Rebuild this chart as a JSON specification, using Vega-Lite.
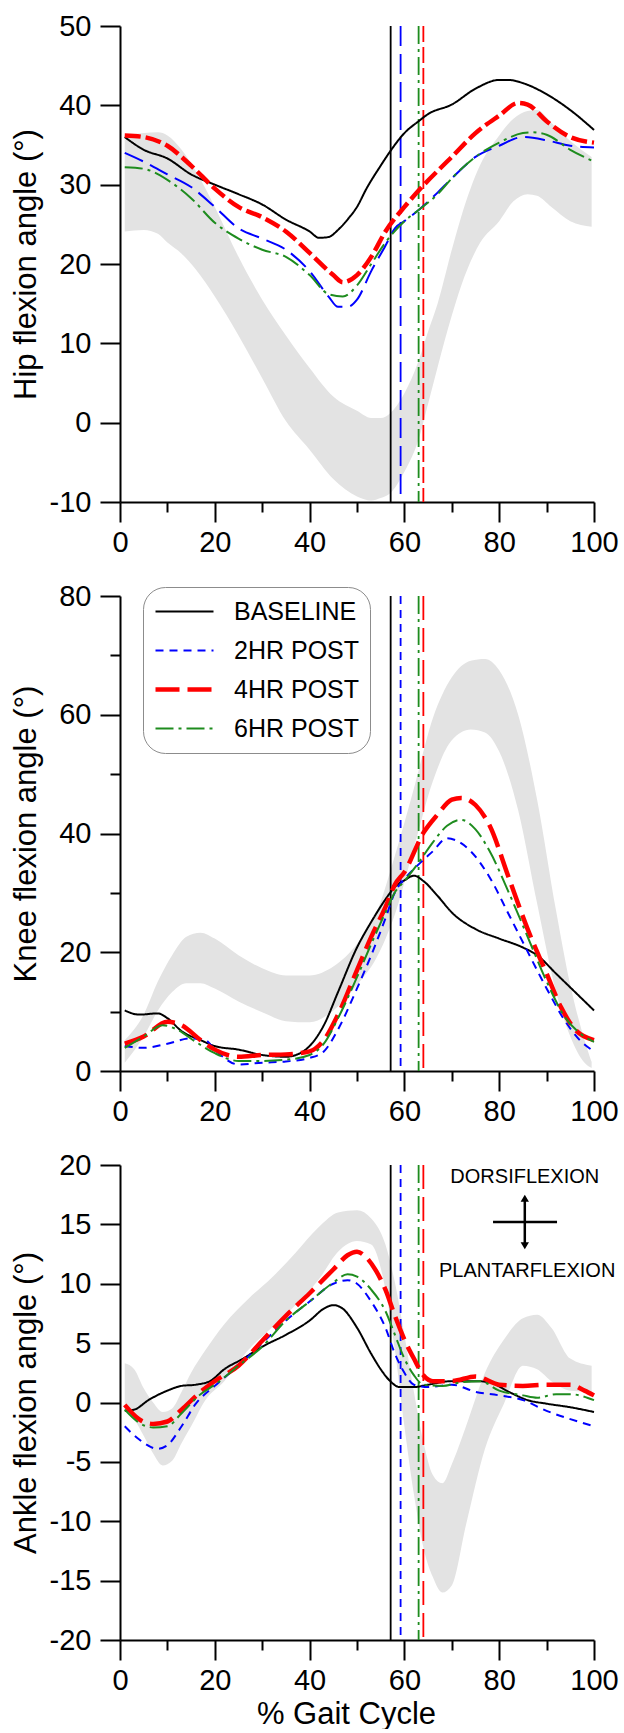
{
  "$schema": "https://vega.github.io/schema/vega-lite/v6.json",
  "background": "white",
  "padding": {"left": 10, "top": 12, "right": 0, "bottom": 0},
  "spacing": 25,
  "config": {
    "view": {"stroke": null},
    "font": "Liberation Sans",
    "axis": {
      "grid": false, "labelFont": "Liberation Sans", "labelFontSize": 29, "labelColor": "black",
      "titleFont": "Liberation Sans", "titleFontSize": 31, "titleFontWeight": "normal", "titleColor": "black",
      "domainColor": "black", "domainWidth": 2, "tickColor": "black", "tickWidth": 2,
      "labelFlush": false, "labelOverlap": false
    },
    "axisX": {"labelPadding": 6, "titlePadding": 4},
    "axisY": {"labelPadding": 9}
  },
  "resolve": {
    "scale": {"color": "independent", "strokeDash": "independent", "strokeWidth": "independent"},
    "legend": {"color": "independent", "strokeDash": "independent", "strokeWidth": "independent"}
  },
  "datasets": {
    "toeoff": [
      {"s": "BASELINE", "x": 57.1}, {"s": "2HR POST", "x": 59.2}, {"s": "4HR POST", "x": 64.0}, {"s": "6HR POST", "x": 63.0}
    ],
    "hipband": [
      {"x":1,"v":36.2,"lo":24.1},{"x":5,"v":36.5,"lo":24.3},{"x":8,"v":36.6,"lo":23.8},{"x":10,"v":36.2,"lo":22.7},
      {"x":13,"v":34.4,"lo":21.3},{"x":16,"v":31.7,"lo":19.3},{"x":20,"v":27.2,"lo":15.9},{"x":25,"v":20.9,"lo":11.0},
      {"x":30,"v":15.5,"lo":5.6},{"x":35,"v":11.0,"lo":0.2},{"x":40,"v":6.9,"lo":-3.4},{"x":45,"v":3.3,"lo":-7.1},
      {"x":50,"v":1.5,"lo":-9.3},{"x":53,"v":0.6,"lo":-9.8},{"x":55,"v":0.6,"lo":-9.5},{"x":57,"v":1.2,"lo":-8.9},
      {"x":60,"v":3.7,"lo":-6.2},{"x":63,"v":7.8,"lo":-2.1},{"x":65,"v":11.5,"lo":2.4},{"x":67,"v":15.0,"lo":7.0},
      {"x":70,"v":21.8,"lo":13.5},{"x":72,"v":26.0,"lo":17.3},{"x":76,"v":32.5,"lo":22.7},{"x":80,"v":36.2,"lo":25.4},
      {"x":83,"v":38.3,"lo":27.9},{"x":86,"v":39.3,"lo":28.8},{"x":88,"v":39.4,"lo":28.6},{"x":91,"v":37.8,"lo":27.2},
      {"x":95,"v":35.5,"lo":25.4},{"x":99.5,"v":33.5,"lo":24.7}
    ],
    "kneeband": [
      {"x":1,"v":5.2,"lo":1.4},{"x":5,"v":9.5,"lo":5.8},{"x":8,"v":15.1,"lo":10.2},{"x":11,"v":19.5,"lo":13.3},
      {"x":14,"v":22.6,"lo":14.8},{"x":17,"v":23.3,"lo":14.8},{"x":20,"v":22.3,"lo":13.9},{"x":25,"v":19.5,"lo":11.7},
      {"x":30,"v":17.3,"lo":9.9},{"x":35,"v":16.1,"lo":8.4},{"x":40,"v":16.1,"lo":8.2},{"x":45,"v":17.6,"lo":10.2},
      {"x":50,"v":21.4,"lo":14.5},{"x":54,"v":26.4,"lo":18.9},{"x":58,"v":36.3,"lo":26.4},{"x":62,"v":47.6,"lo":37.6},
      {"x":66,"v":59.4,"lo":48.8},{"x":70,"v":66.3,"lo":55.7},{"x":74,"v":69.1,"lo":57.5},{"x":77,"v":69.4,"lo":57.0},
      {"x":80,"v":67.5,"lo":53.8},{"x":84,"v":60.0,"lo":43.9},{"x":88,"v":45.7,"lo":28.2},{"x":92,"v":27.0,"lo":13.3},
      {"x":95,"v":14.5,"lo":5.8},{"x":98,"v":5.2,"lo":1.4},{"x":99.5,"v":1.5,"lo":0.5}
    ],
    "ankleband": [
      {"x":1,"v":3.3,"lo":-0.6},{"x":3,"v":2.8,"lo":-1.4},{"x":5,"v":1.2,"lo":-2.8},{"x":7,"v":0.0,"lo":-4.3},
      {"x":9,"v":-0.8,"lo":-5.3},{"x":11,"v":-0.5,"lo":-4.9},{"x":13,"v":0.9,"lo":-3.4},{"x":15,"v":2.5,"lo":-2.0},
      {"x":18,"v":4.4,"lo":0.2},{"x":22,"v":6.6,"lo":1.8},{"x":27,"v":8.7,"lo":4.4},{"x":32,"v":10.5,"lo":6.3},
      {"x":37,"v":12.6,"lo":8.2},{"x":42,"v":14.8,"lo":10.4},{"x":46,"v":16.0,"lo":12.7},{"x":50,"v":16.2,"lo":13.6},
      {"x":53,"v":15.5,"lo":13.3},{"x":56,"v":13.3,"lo":9.5},{"x":58,"v":10.1,"lo":4.4},{"x":60,"v":5.7,"lo":-2.0},
      {"x":62,"v":0.9,"lo":-7.7},{"x":64,"v":-3.3,"lo":-12.2},{"x":66,"v":-6.1,"lo":-14.7},{"x":68,"v":-6.8,"lo":-16.0},
      {"x":70,"v":-5.2,"lo":-15.4},{"x":73,"v":-2.0,"lo":-10.3},{"x":77,"v":2.5,"lo":-3.9},{"x":81,"v":5.3,"lo":-0.1},
      {"x":85,"v":7.1,"lo":3.1},{"x":88,"v":7.4,"lo":2.8},{"x":91,"v":6.3,"lo":1.8},{"x":95,"v":3.7,"lo":1.0},
      {"x":99.5,"v":3.1,"lo":0.9}
    ],
    "hip": [
      {"s":"BASELINE","x":1,"v":36.0},{"s":"BASELINE","x":5,"v":34.4},{"s":"BASELINE","x":10,"v":33.3},{"s":"BASELINE","x":15,"v":31.3},
      {"s":"BASELINE","x":20,"v":30.0},{"s":"BASELINE","x":25,"v":28.8},{"s":"BASELINE","x":30,"v":27.5},{"s":"BASELINE","x":35,"v":25.6},
      {"s":"BASELINE","x":40,"v":24.1},{"s":"BASELINE","x":42,"v":23.3},{"s":"BASELINE","x":44,"v":23.4},{"s":"BASELINE","x":46,"v":24.3},
      {"s":"BASELINE","x":48,"v":25.6},{"s":"BASELINE","x":50,"v":27.2},{"s":"BASELINE","x":52,"v":29.5},{"s":"BASELINE","x":55,"v":32.4},
      {"s":"BASELINE","x":57,"v":34.2},{"s":"BASELINE","x":60,"v":36.5},{"s":"BASELINE","x":63,"v":38.0},{"s":"BASELINE","x":65,"v":38.9},
      {"s":"BASELINE","x":70,"v":40.1},{"s":"BASELINE","x":75,"v":42.1},{"s":"BASELINE","x":80,"v":43.2},{"s":"BASELINE","x":82,"v":43.2},
      {"s":"BASELINE","x":85,"v":42.8},{"s":"BASELINE","x":90,"v":41.4},{"s":"BASELINE","x":95,"v":39.4},{"s":"BASELINE","x":100,"v":36.9},
      {"s":"2HR POST","x":1,"v":34.0},{"s":"2HR POST","x":5,"v":32.9},{"s":"2HR POST","x":10,"v":31.3},{"s":"2HR POST","x":15,"v":29.7},
      {"s":"2HR POST","x":20,"v":27.2},{"s":"2HR POST","x":25,"v":24.5},{"s":"2HR POST","x":30,"v":23.2},{"s":"2HR POST","x":35,"v":21.8},
      {"s":"2HR POST","x":40,"v":19.1},{"s":"2HR POST","x":44,"v":15.9},{"s":"2HR POST","x":46,"v":14.6},{"s":"2HR POST","x":48,"v":14.6},
      {"s":"2HR POST","x":50,"v":15.5},{"s":"2HR POST","x":53,"v":19.1},{"s":"2HR POST","x":56,"v":22.3},{"s":"2HR POST","x":58,"v":24.5},
      {"s":"2HR POST","x":60,"v":25.4},{"s":"2HR POST","x":63,"v":26.8},{"s":"2HR POST","x":67,"v":29.0},{"s":"2HR POST","x":70,"v":30.8},
      {"s":"2HR POST","x":75,"v":33.5},{"s":"2HR POST","x":80,"v":34.9},{"s":"2HR POST","x":85,"v":36.0},{"s":"2HR POST","x":90,"v":35.6},
      {"s":"2HR POST","x":95,"v":34.9},{"s":"2HR POST","x":100,"v":34.7},
      {"s":"4HR POST","x":1,"v":36.2},{"s":"4HR POST","x":5,"v":36.0},{"s":"4HR POST","x":10,"v":34.9},{"s":"4HR POST","x":15,"v":32.4},
      {"s":"4HR POST","x":20,"v":29.5},{"s":"4HR POST","x":25,"v":27.2},{"s":"4HR POST","x":30,"v":25.9},{"s":"4HR POST","x":35,"v":24.1},
      {"s":"4HR POST","x":40,"v":21.4},{"s":"4HR POST","x":45,"v":18.6},{"s":"4HR POST","x":47,"v":17.7},{"s":"4HR POST","x":50,"v":18.6},
      {"s":"4HR POST","x":53,"v":20.9},{"s":"4HR POST","x":56,"v":24.1},{"s":"4HR POST","x":60,"v":27.2},{"s":"4HR POST","x":64,"v":29.9},
      {"s":"4HR POST","x":70,"v":33.5},{"s":"4HR POST","x":75,"v":36.5},{"s":"4HR POST","x":80,"v":38.7},{"s":"4HR POST","x":84,"v":40.3},
      {"s":"4HR POST","x":86,"v":40.1},{"s":"4HR POST","x":90,"v":38.0},{"s":"4HR POST","x":95,"v":36.0},{"s":"4HR POST","x":100,"v":35.3},
      {"s":"6HR POST","x":1,"v":32.2},{"s":"6HR POST","x":5,"v":32.0},{"s":"6HR POST","x":10,"v":30.6},{"s":"6HR POST","x":15,"v":28.3},
      {"s":"6HR POST","x":20,"v":25.2},{"s":"6HR POST","x":25,"v":23.2},{"s":"6HR POST","x":30,"v":21.8},{"s":"6HR POST","x":35,"v":20.9},
      {"s":"6HR POST","x":40,"v":18.6},{"s":"6HR POST","x":44,"v":16.2},{"s":"6HR POST","x":47,"v":15.9},{"s":"6HR POST","x":50,"v":17.3},
      {"s":"6HR POST","x":53,"v":20.0},{"s":"6HR POST","x":56,"v":22.7},{"s":"6HR POST","x":60,"v":25.4},{"s":"6HR POST","x":63,"v":26.8},
      {"s":"6HR POST","x":67,"v":28.8},{"s":"6HR POST","x":70,"v":30.8},{"s":"6HR POST","x":75,"v":33.5},{"s":"6HR POST","x":80,"v":35.3},
      {"s":"6HR POST","x":85,"v":36.5},{"s":"6HR POST","x":87,"v":36.6},{"s":"6HR POST","x":90,"v":36.3},{"s":"6HR POST","x":95,"v":34.4},
      {"s":"6HR POST","x":100,"v":32.9}
    ],
    "knee": [
      {"s":"BASELINE","x":1,"v":10.2},{"s":"BASELINE","x":4,"v":9.5},{"s":"BASELINE","x":8,"v":9.7},{"s":"BASELINE","x":10,"v":8.9},
      {"s":"BASELINE","x":13,"v":6.7},{"s":"BASELINE","x":17,"v":5.2},{"s":"BASELINE","x":20,"v":4.2},{"s":"BASELINE","x":25,"v":3.6},
      {"s":"BASELINE","x":30,"v":2.7},{"s":"BASELINE","x":35,"v":2.4},{"s":"BASELINE","x":38,"v":3.0},{"s":"BASELINE","x":40,"v":4.2},
      {"s":"BASELINE","x":43,"v":7.7},{"s":"BASELINE","x":46,"v":13.3},{"s":"BASELINE","x":50,"v":20.8},{"s":"BASELINE","x":53,"v":25.1},
      {"s":"BASELINE","x":56,"v":28.9},{"s":"BASELINE","x":58,"v":31.0},{"s":"BASELINE","x":60,"v":32.1},{"s":"BASELINE","x":62,"v":32.9},
      {"s":"BASELINE","x":64,"v":32.0},{"s":"BASELINE","x":67,"v":29.5},{"s":"BASELINE","x":70,"v":26.7},{"s":"BASELINE","x":75,"v":23.9},
      {"s":"BASELINE","x":80,"v":22.3},{"s":"BASELINE","x":85,"v":20.8},{"s":"BASELINE","x":88,"v":19.5},{"s":"BASELINE","x":92,"v":16.4},
      {"s":"BASELINE","x":96,"v":13.3},{"s":"BASELINE","x":100,"v":10.2},
      {"s":"2HR POST","x":1,"v":4.2},{"s":"2HR POST","x":5,"v":3.9},{"s":"2HR POST","x":10,"v":4.6},{"s":"2HR POST","x":15,"v":5.5},
      {"s":"2HR POST","x":18,"v":5.2},{"s":"2HR POST","x":20,"v":3.6},{"s":"2HR POST","x":25,"v":1.1},{"s":"2HR POST","x":30,"v":1.4},
      {"s":"2HR POST","x":35,"v":1.6},{"s":"2HR POST","x":40,"v":2.2},{"s":"2HR POST","x":43,"v":3.3},{"s":"2HR POST","x":46,"v":7.0},
      {"s":"2HR POST","x":50,"v":13.9},{"s":"2HR POST","x":53,"v":19.5},{"s":"2HR POST","x":56,"v":25.7},{"s":"2HR POST","x":58,"v":30.1},
      {"s":"2HR POST","x":60,"v":32.3},{"s":"2HR POST","x":63,"v":34.8},{"s":"2HR POST","x":66,"v":37.0},{"s":"2HR POST","x":69,"v":39.2},
      {"s":"2HR POST","x":71,"v":38.8},{"s":"2HR POST","x":74,"v":37.0},{"s":"2HR POST","x":78,"v":32.6},{"s":"2HR POST","x":82,"v":26.4},
      {"s":"2HR POST","x":86,"v":20.1},{"s":"2HR POST","x":90,"v":13.9},{"s":"2HR POST","x":94,"v":8.3},{"s":"2HR POST","x":97,"v":5.2},
      {"s":"2HR POST","x":100,"v":3.3},
      {"s":"4HR POST","x":1,"v":4.6},{"s":"4HR POST","x":5,"v":5.8},{"s":"4HR POST","x":10,"v":8.3},{"s":"4HR POST","x":13,"v":7.7},
      {"s":"4HR POST","x":17,"v":5.2},{"s":"4HR POST","x":20,"v":3.6},{"s":"4HR POST","x":25,"v":2.4},{"s":"4HR POST","x":30,"v":2.7},
      {"s":"4HR POST","x":35,"v":2.8},{"s":"4HR POST","x":40,"v":3.3},{"s":"4HR POST","x":43,"v":5.2},{"s":"4HR POST","x":46,"v":9.5},
      {"s":"4HR POST","x":50,"v":17.0},{"s":"4HR POST","x":53,"v":22.6},{"s":"4HR POST","x":56,"v":27.6},{"s":"4HR POST","x":58,"v":31.4},
      {"s":"4HR POST","x":60,"v":33.5},{"s":"4HR POST","x":64,"v":40.1},{"s":"4HR POST","x":67,"v":43.2},{"s":"4HR POST","x":70,"v":45.7},
      {"s":"4HR POST","x":72,"v":46.0},{"s":"4HR POST","x":75,"v":44.8},{"s":"4HR POST","x":78,"v":41.3},{"s":"4HR POST","x":82,"v":32.6},
      {"s":"4HR POST","x":86,"v":23.9},{"s":"4HR POST","x":90,"v":16.4},{"s":"4HR POST","x":93,"v":10.8},{"s":"4HR POST","x":96,"v":7.0},
      {"s":"4HR POST","x":100,"v":5.2},
      {"s":"6HR POST","x":1,"v":3.9},{"s":"6HR POST","x":5,"v":5.8},{"s":"6HR POST","x":9,"v":7.7},{"s":"6HR POST","x":12,"v":7.0},
      {"s":"6HR POST","x":16,"v":4.9},{"s":"6HR POST","x":20,"v":3.0},{"s":"6HR POST","x":25,"v":1.7},{"s":"6HR POST","x":30,"v":1.7},
      {"s":"6HR POST","x":35,"v":1.9},{"s":"6HR POST","x":40,"v":2.7},{"s":"6HR POST","x":43,"v":4.6},{"s":"6HR POST","x":46,"v":8.9},
      {"s":"6HR POST","x":50,"v":15.8},{"s":"6HR POST","x":53,"v":21.4},{"s":"6HR POST","x":56,"v":26.7},{"s":"6HR POST","x":58,"v":30.1},
      {"s":"6HR POST","x":60,"v":32.0},{"s":"6HR POST","x":63,"v":35.1},{"s":"6HR POST","x":66,"v":38.5},{"s":"6HR POST","x":69,"v":41.3},
      {"s":"6HR POST","x":72,"v":42.3},{"s":"6HR POST","x":75,"v":40.7},{"s":"6HR POST","x":78,"v":37.0},{"s":"6HR POST","x":82,"v":30.1},
      {"s":"6HR POST","x":86,"v":22.6},{"s":"6HR POST","x":90,"v":15.1},{"s":"6HR POST","x":94,"v":8.9},{"s":"6HR POST","x":97,"v":6.4},
      {"s":"6HR POST","x":100,"v":4.9}
    ],
    "ankle": [
      {"s":"BASELINE","x":1,"v":-0.7},{"s":"BASELINE","x":3,"v":-0.6},{"s":"BASELINE","x":6,"v":0.2},{"s":"BASELINE","x":10,"v":1.0},
      {"s":"BASELINE","x":13,"v":1.4},{"s":"BASELINE","x":16,"v":1.5},{"s":"BASELINE","x":19,"v":1.8},{"s":"BASELINE","x":22,"v":2.8},
      {"s":"BASELINE","x":26,"v":3.7},{"s":"BASELINE","x":30,"v":4.7},{"s":"BASELINE","x":35,"v":5.7},{"s":"BASELINE","x":40,"v":6.9},
      {"s":"BASELINE","x":43,"v":7.9},{"s":"BASELINE","x":45,"v":8.2},{"s":"BASELINE","x":47,"v":7.9},{"s":"BASELINE","x":50,"v":6.3},
      {"s":"BASELINE","x":53,"v":4.1},{"s":"BASELINE","x":55,"v":2.8},{"s":"BASELINE","x":57,"v":1.8},{"s":"BASELINE","x":59,"v":1.3},
      {"s":"BASELINE","x":62,"v":1.3},{"s":"BASELINE","x":65,"v":1.5},{"s":"BASELINE","x":70,"v":1.8},{"s":"BASELINE","x":75,"v":1.8},
      {"s":"BASELINE","x":78,"v":1.7},{"s":"BASELINE","x":82,"v":0.9},{"s":"BASELINE","x":86,"v":0.2},{"s":"BASELINE","x":90,"v":-0.1},
      {"s":"BASELINE","x":95,"v":-0.4},{"s":"BASELINE","x":100,"v":-0.8},
      {"s":"2HR POST","x":1,"v":-2.0},{"s":"2HR POST","x":4,"v":-3.1},{"s":"2HR POST","x":8,"v":-3.9},{"s":"2HR POST","x":10,"v":-3.6},
      {"s":"2HR POST","x":13,"v":-2.0},{"s":"2HR POST","x":16,"v":-0.1},{"s":"2HR POST","x":20,"v":1.4},{"s":"2HR POST","x":25,"v":3.1},
      {"s":"2HR POST","x":30,"v":5.0},{"s":"2HR POST","x":35,"v":6.9},{"s":"2HR POST","x":40,"v":8.5},{"s":"2HR POST","x":45,"v":10.0},
      {"s":"2HR POST","x":48,"v":10.3},{"s":"2HR POST","x":50,"v":10.0},{"s":"2HR POST","x":53,"v":8.5},{"s":"2HR POST","x":56,"v":6.3},
      {"s":"2HR POST","x":58,"v":4.1},{"s":"2HR POST","x":60,"v":2.5},{"s":"2HR POST","x":62,"v":1.5},{"s":"2HR POST","x":65,"v":1.3},
      {"s":"2HR POST","x":70,"v":1.5},{"s":"2HR POST","x":75,"v":0.9},{"s":"2HR POST","x":80,"v":0.6},{"s":"2HR POST","x":85,"v":0.2},
      {"s":"2HR POST","x":90,"v":-0.7},{"s":"2HR POST","x":95,"v":-1.4},{"s":"2HR POST","x":100,"v":-2.0},
      {"s":"4HR POST","x":1,"v":-0.2},{"s":"4HR POST","x":4,"v":-1.4},{"s":"4HR POST","x":7,"v":-1.8},{"s":"4HR POST","x":10,"v":-1.6},
      {"s":"4HR POST","x":13,"v":-0.6},{"s":"4HR POST","x":17,"v":0.9},{"s":"4HR POST","x":20,"v":1.8},{"s":"4HR POST","x":25,"v":3.1},
      {"s":"4HR POST","x":30,"v":5.2},{"s":"4HR POST","x":35,"v":7.3},{"s":"4HR POST","x":40,"v":9.2},{"s":"4HR POST","x":45,"v":11.2},
      {"s":"4HR POST","x":48,"v":12.4},{"s":"4HR POST","x":50,"v":12.7},{"s":"4HR POST","x":52,"v":12.2},{"s":"4HR POST","x":54,"v":11.1},
      {"s":"4HR POST","x":56,"v":9.5},{"s":"4HR POST","x":58,"v":7.3},{"s":"4HR POST","x":60,"v":5.3},{"s":"4HR POST","x":62,"v":3.7},
      {"s":"4HR POST","x":64,"v":2.3},{"s":"4HR POST","x":66,"v":1.8},{"s":"4HR POST","x":70,"v":1.8},{"s":"4HR POST","x":75,"v":2.2},
      {"s":"4HR POST","x":80,"v":1.5},{"s":"4HR POST","x":85,"v":1.4},{"s":"4HR POST","x":90,"v":1.5},{"s":"4HR POST","x":95,"v":1.5},
      {"s":"4HR POST","x":98,"v":1.0},{"s":"4HR POST","x":100,"v":0.6},
      {"s":"6HR POST","x":1,"v":-0.6},{"s":"6HR POST","x":4,"v":-1.7},{"s":"6HR POST","x":7,"v":-2.1},{"s":"6HR POST","x":10,"v":-2.0},
      {"s":"6HR POST","x":13,"v":-0.9},{"s":"6HR POST","x":17,"v":0.7},{"s":"6HR POST","x":20,"v":1.5},{"s":"6HR POST","x":25,"v":3.1},
      {"s":"6HR POST","x":30,"v":4.7},{"s":"6HR POST","x":35,"v":6.9},{"s":"6HR POST","x":40,"v":8.5},{"s":"6HR POST","x":45,"v":10.1},
      {"s":"6HR POST","x":48,"v":10.8},{"s":"6HR POST","x":50,"v":10.6},{"s":"6HR POST","x":53,"v":9.5},{"s":"6HR POST","x":56,"v":7.7},
      {"s":"6HR POST","x":58,"v":5.7},{"s":"6HR POST","x":60,"v":3.7},{"s":"6HR POST","x":62,"v":2.3},{"s":"6HR POST","x":64,"v":1.5},
      {"s":"6HR POST","x":68,"v":1.4},{"s":"6HR POST","x":72,"v":1.7},{"s":"6HR POST","x":76,"v":1.8},{"s":"6HR POST","x":80,"v":1.0},
      {"s":"6HR POST","x":85,"v":0.6},{"s":"6HR POST","x":88,"v":0.4},{"s":"6HR POST","x":92,"v":0.7},{"s":"6HR POST","x":95,"v":0.7},
      {"s":"6HR POST","x":100,"v":0.2}
    ],
    "ankletext": [
      {"x": 85.4, "v": 19.0, "t": "DORSIFLEXION"},
      {"x": 85.9, "v": 11.1, "t": "PLANTARFLEXION"}
    ],
    "anklecross": [
      {"x": 78.7, "x2": 92.2, "v": 15.2, "v2": 15.2},
      {"x": 85.4, "x2": 85.4, "v": 13.2, "v2": 17.2}
    ],
    "arrowup": [{"x": 85.4, "v": 17.2}],
    "arrowdown": [{"x": 85.4, "v": 13.2}]
  },
  "vconcat": [
    {
      "width": 474, "height": 476,
      "encoding": {
        "x": {"field": "x", "type": "quantitative",
          "scale": {"domain": [0, 100], "nice": false, "zero": false},
          "axis": {"title": null, "values": [0,10,20,30,40,50,60,70,80,90,100],
            "labelExpr": "datum.value % 20 === 0 ? '' + datum.value : ''",
            "tickSize": {"condition": {"test": "datum.value % 20 !== 0", "value": 10}, "value": 20}}}
      },
      "layer": [
        {"data": {"name": "hipband"}, "mark": {"type": "area", "interpolate": "monotone", "color": "#e3e3e3"},
          "encoding": {
            "y": {"field": "v", "type": "quantitative", "title": "Hip flexion angle (°)", "scale": {"domain": [-10, 50], "nice": false, "zero": false},
              "axis": {"titleX": -78,
                "values": [-10,-5,0,5,10,15,20,25,30,35,40,45,50],
                "labelExpr": "datum.value % 10 === 0 ? '' + datum.value : ''",
                "tickSize": {"condition": {"test": "datum.value % 10 !== 0", "value": 10}, "value": 20}}},
            "y2": {"field": "lo"}}},
        {"data": {"name": "toeoff"}, "mark": {"type": "rule", "strokeWidth": 1.8},
          "encoding": {
            "color": {"field": "s", "type": "nominal", "legend": null, "scale": {"domain": ["BASELINE","2HR POST","4HR POST","6HR POST"], "range": ["#000000","#0000ff","#ff0000","#1e8c1e"]}},
            "strokeDash": {"field": "s", "type": "nominal", "legend": null, "scale": {"domain": ["BASELINE","2HR POST","4HR POST","6HR POST"], "range": [[1,0],[20,8],[16,5],[18,5,3,5]]}}}},
        {"data": {"name": "hip"}, "mark": {"type": "line", "interpolate": "monotone"},
          "encoding": {
            "y": {"field": "v", "type": "quantitative", "title": "Hip flexion angle (°)"},
            "color": {"field": "s", "type": "nominal", "legend": null, "scale": {"domain": ["BASELINE","2HR POST","4HR POST","6HR POST"], "range": ["#000000","#0000ff","#ff0000","#1e8c1e"]}},
            "strokeDash": {"field": "s", "type": "nominal", "legend": null, "scale": {"domain": ["BASELINE","2HR POST","4HR POST","6HR POST"], "range": [[1,0],[8,6],[24,8],[18,5,3,5]]}},
            "strokeWidth": {"field": "s", "type": "nominal", "legend": null, "scale": {"type": "ordinal", "domain": ["BASELINE","2HR POST","4HR POST","6HR POST"], "range": [2,2,4.5,2]}}}}
      ]
    },
    {
      "width": 474, "height": 475,
      "encoding": {
        "x": {"field": "x", "type": "quantitative",
          "scale": {"domain": [0, 100], "nice": false, "zero": false},
          "axis": {"title": null, "values": [0,10,20,30,40,50,60,70,80,90,100],
            "labelExpr": "datum.value % 20 === 0 ? '' + datum.value : ''",
            "tickSize": {"condition": {"test": "datum.value % 20 !== 0", "value": 10}, "value": 20}}}
      },
      "layer": [
        {"data": {"name": "kneeband"}, "mark": {"type": "area", "interpolate": "monotone", "color": "#e3e3e3"},
          "encoding": {
            "y": {"field": "v", "type": "quantitative", "title": "Knee flexion angle (°)", "scale": {"domain": [0, 80], "nice": false, "zero": false},
              "axis": {"titleX": -78,
                "values": [0,10,20,30,40,50,60,70,80],
                "labelExpr": "datum.value % 20 === 0 ? '' + datum.value : ''",
                "tickSize": {"condition": {"test": "datum.value % 20 !== 0", "value": 10}, "value": 20}}},
            "y2": {"field": "lo"}}},
        {"data": {"name": "toeoff"}, "mark": {"type": "rule", "strokeWidth": 1.8},
          "encoding": {
            "color": {"field": "s", "type": "nominal", "scale": {"domain": ["BASELINE","2HR POST","4HR POST","6HR POST"], "range": ["#000000","#0000ff","#ff0000","#1e8c1e"]}},
            "strokeDash": {"field": "s", "type": "nominal", "scale": {"domain": ["BASELINE","2HR POST","4HR POST","6HR POST"], "range": [[1,0],[8,6],[24,8],[18,5,3,5]]}}}},
        {"data": {"name": "knee"}, "mark": {"type": "line", "interpolate": "monotone"},
          "encoding": {
            "y": {"field": "v", "type": "quantitative", "title": "Knee flexion angle (°)"},
            "color": {"field": "s", "type": "nominal", "scale": {"domain": ["BASELINE","2HR POST","4HR POST","6HR POST"], "range": ["#000000","#0000ff","#ff0000","#1e8c1e"]},
              "legend": {"title": null, "orient": "none", "legendX": 23, "legendY": -9, "symbolType": "stroke", "symbolSize": 3364,
                "clipHeight": 29, "rowPadding": 10, "padding": 10, "labelOffset": 18, "labelFontSize": 25, "labelFont": "Liberation Sans",
                "labelColor": "black", "strokeColor": "#8c8c8c", "cornerRadius": 22, "fillColor": "white", "labelLimit": 300}},
            "strokeDash": {"field": "s", "type": "nominal", "scale": {"domain": ["BASELINE","2HR POST","4HR POST","6HR POST"], "range": [[1,0],[8,6],[24,8],[18,5,3,5]]}},
            "strokeWidth": {"field": "s", "type": "nominal", "scale": {"type": "ordinal", "domain": ["BASELINE","2HR POST","4HR POST","6HR POST"], "range": [2,2,4.5,2]}}}}
      ]
    },
    {
      "width": 474, "height": 475,
      "encoding": {
        "x": {"field": "x", "type": "quantitative",
          "scale": {"domain": [0, 100], "nice": false, "zero": false},
          "axis": {"title": "% Gait Cycle", "titleX": 226, "values": [0,10,20,30,40,50,60,70,80,90,100],
            "labelExpr": "datum.value % 20 === 0 ? '' + datum.value : ''",
            "tickSize": {"condition": {"test": "datum.value % 20 !== 0", "value": 10}, "value": 20}}}
      },
      "layer": [
        {"data": {"name": "ankleband"}, "mark": {"type": "area", "interpolate": "monotone", "color": "#e3e3e3"},
          "encoding": {
            "y": {"field": "v", "type": "quantitative", "title": "Ankle flexion angle (°)", "scale": {"domain": [-20, 20], "nice": false, "zero": false},
              "axis": {"titleX": -78,
                "values": [-20,-17.5,-15,-12.5,-10,-7.5,-5,-2.5,0,2.5,5,7.5,10,12.5,15,17.5,20],
                "labelExpr": "datum.value % 5 === 0 ? '' + datum.value : ''",
                "tickSize": {"condition": {"test": "datum.value % 5 !== 0", "value": 10}, "value": 20}}},
            "y2": {"field": "lo"}}},
        {"data": {"name": "toeoff"}, "mark": {"type": "rule", "strokeWidth": 1.8},
          "encoding": {
            "color": {"field": "s", "type": "nominal", "legend": null, "scale": {"domain": ["BASELINE","2HR POST","4HR POST","6HR POST"], "range": ["#000000","#0000ff","#ff0000","#1e8c1e"]}},
            "strokeDash": {"field": "s", "type": "nominal", "legend": null, "scale": {"domain": ["BASELINE","2HR POST","4HR POST","6HR POST"], "range": [[1,0],[8,6],[24,8],[18,5,3,5]]}}}},
        {"data": {"name": "ankle"}, "mark": {"type": "line", "interpolate": "monotone"},
          "encoding": {
            "y": {"field": "v", "type": "quantitative", "title": "Ankle flexion angle (°)"},
            "color": {"field": "s", "type": "nominal", "legend": null, "scale": {"domain": ["BASELINE","2HR POST","4HR POST","6HR POST"], "range": ["#000000","#0000ff","#ff0000","#1e8c1e"]}},
            "strokeDash": {"field": "s", "type": "nominal", "legend": null, "scale": {"domain": ["BASELINE","2HR POST","4HR POST","6HR POST"], "range": [[1,0],[8,6],[24,8],[18,5,3,5]]}},
            "strokeWidth": {"field": "s", "type": "nominal", "legend": null, "scale": {"type": "ordinal", "domain": ["BASELINE","2HR POST","4HR POST","6HR POST"], "range": [2,2,4.5,2]}}}},
        {"data": {"name": "anklecross"}, "mark": {"type": "rule", "strokeWidth": 2.5, "color": "black"},
          "encoding": {"y": {"field": "v", "type": "quantitative", "title": "Ankle flexion angle (°)"}, "x2": {"field": "x2"}, "y2": {"field": "v2"}}},
        {"data": {"name": "arrowup"}, "mark": {"type": "point", "shape": "triangle-up", "filled": true, "color": "black", "size": 70, "opacity": 1},
          "encoding": {"y": {"field": "v", "type": "quantitative", "title": "Ankle flexion angle (°)"}}},
        {"data": {"name": "arrowdown"}, "mark": {"type": "point", "shape": "triangle-down", "filled": true, "color": "black", "size": 70, "opacity": 1},
          "encoding": {"y": {"field": "v", "type": "quantitative", "title": "Ankle flexion angle (°)"}}},
        {"data": {"name": "ankletext"}, "mark": {"type": "text", "font": "Liberation Sans", "fontSize": 20, "color": "black", "baseline": "middle", "align": "center"},
          "encoding": {"y": {"field": "v", "type": "quantitative", "title": "Ankle flexion angle (°)"}, "text": {"field": "t"}}}
      ]
    }
  ]
}
